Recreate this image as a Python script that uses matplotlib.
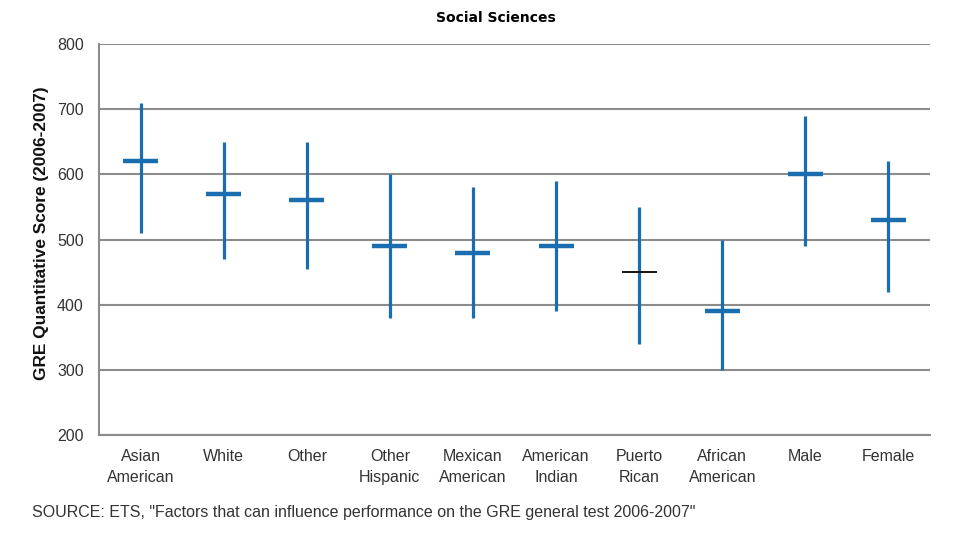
"""GRE quantitative score ranges by group, social sciences."""
import matplotlib
matplotlib.use('Agg')
import matplotlib.pyplot as plt

plt.rcParams['font.family'] = ['Liberation Sans', 'DejaVu Sans']

groups = ['Asian\nAmerican', 'White', 'Other', 'Other\nHispanic', 'Mexican\nAmerican',
          'American\nIndian', 'Puerto\nRican', 'African\nAmerican', 'Male', 'Female']
high = [710, 650, 650, 600, 580, 590, 550, 500, 690, 620]
low = [510, 470, 455, 380, 380, 390, 340, 300, 490, 420]
mean = [620, 570, 560, 490, 480, 490, 450, 390, 600, 530]

blue = '#1a6dae'
grid_c = '#8c8c8c'
txt_c = '#333333'

fig = plt.figure(figsize=(9.6, 5.4), dpi=100)
ax = fig.add_axes([99 / 960, 1 - 435 / 540, 831 / 960, 391 / 540])

xs = [i + 0.5 for i in range(len(groups))]
for i, x in enumerate(xs):
    ax.vlines(x, low[i], high[i], color=blue, linewidth=2.3, zorder=3)
    if groups[i] == 'Puerto\nRican':
        ax.hlines(mean[i], x - 0.21, x + 0.21, color='black', linewidth=1.3, zorder=4)
    else:
        ax.hlines(mean[i], x - 0.21, x + 0.21, color=blue, linewidth=3.2, zorder=4)

ax.set_xlim(0, len(groups))
ax.set_ylim(200, 800)
ax.set_yticks(range(200, 801, 100))
ax.yaxis.grid(True, color=grid_c, linewidth=1.5)
ax.set_axisbelow(True)
ax.set_xticks(xs)
ax.set_xticklabels(groups, fontsize=11.5, linespacing=1.5, color=txt_c)
ax.tick_params(axis='x', length=0, pad=10)
ax.tick_params(axis='y', length=0, pad=11, labelsize=11.5, labelcolor=txt_c)
for s in ['top', 'right']:
    ax.spines[s].set_visible(False)
for s in ['left', 'bottom']:
    ax.spines[s].set_color(grid_c)
    ax.spines[s].set_linewidth(1.5)

ax.set_ylabel('GRE Quantitative Score (2006-2007)', fontsize=12.4, fontweight='bold',
              color='#111111')
ax.yaxis.set_label_coords(-50 / 831, (435 - 233) / 391)
fig.text(496 / 960, 1 - 18 / 540, 'Social Sciences', ha='center', va='center',
         fontsize=10, fontweight='bold', family='DejaVu Sans')
fig.text(32 / 960, 1 - 513 / 540,
         'SOURCE: ETS, "Factors that can influence performance on the GRE general test 2006-2007"',
         ha='left', va='center', fontsize=11.5, color=txt_c)

fig.savefig('out.png', dpi=100)
